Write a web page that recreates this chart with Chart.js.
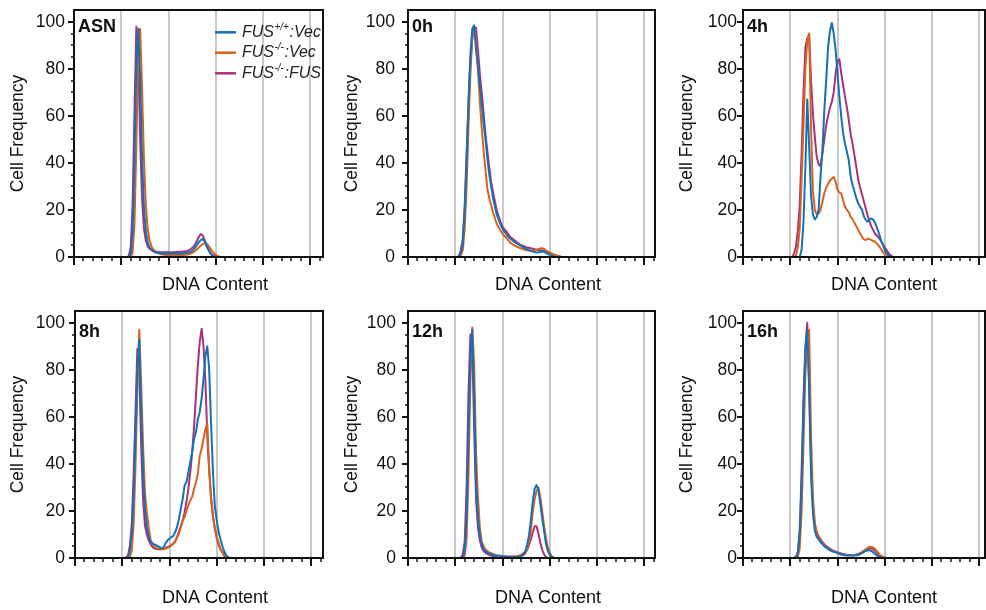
<!DOCTYPE html>
<html>
<head>
<meta charset="utf-8">
<script src="https://cdn.jsdelivr.net/npm/chart.js@4.4.1/dist/chart.umd.min.js"></script>
<style>
  html, body { margin: 0; padding: 0; background: #fff; }
  #page { position: relative; width: 986px; height: 610px; overflow: hidden; background: #fff; }
  #page canvas { position: absolute; }
</style>
</head>
<body>
<div id="page"></div>
<script>
// DNA content channels shared by every histogram
const dnaChannels = [
  52, 54, 56, 58, 60, 62, 64, 66, 68, 70,
  72, 74, 76, 78, 80, 82, 84, 86, 88, 90,
  92, 94, 96, 98, 100, 102, 104, 106, 108, 110,
  112, 114, 116, 118, 120, 122, 124, 126, 128, 130,
  132, 134, 136, 138, 140, 142, 144, 146, 148, 150,
  152, 154, 156, 158, 160, 162, 164, 166
];

const panelNames = ['ASN', '0h', '4h', '8h', '12h', '16h'];
const seriesLabels = ['FUS+/+:Vec', 'FUS-/-:Vec', 'FUS-/-:FUS'];
const legendParts = [['FUS', '+/+', ':Vec'], ['FUS', '-/-', ':Vec'], ['FUS', '-/-', ':FUS']];
const seriesColors = ['#1272b6', '#d9621b', '#a8327f'];
const yTicks = [0, 20, 40, 60, 80, 100];
const xGridLines = [50, 100, 150, 200, 250];

// cell frequency per channel, one array per condition and time point
const wtVecASN = [
  0, 0, 0, 0, 1.5, 10, 42, 82, 97, 75,
  42, 21, 11, 6, 4, 3, 2.4, 2, 1.8, 1.6,
  1.5, 1.5, 1.5, 1.5, 1.5, 1.5, 1.5, 1.5, 1.5, 1.5,
  1.5, 1.5, 1.6, 1.7, 1.8, 2, 2.4, 3, 3.8, 5,
  6.2, 7.2, 7.6, 6.8, 5, 3.2, 1.8, 0.8, 0.3, 0,
  0, 0, 0, 0, 0, 0, 0, 0
];
const koVecASN = [
  0, 0, 0, 0, 0, 2, 14, 48, 88, 97,
  72, 42, 22, 12, 7, 4.5, 3.2, 2.5, 2, 1.6,
  1.3, 1.1, 1, 0.9, 0.9, 0.8, 0.8, 0.8, 0.8, 0.8,
  0.8, 0.8, 0.8, 0.9, 1.1, 1.3, 1.6, 2, 2.5, 3.2,
  4, 4.8, 5.4, 5.8, 5.8, 5, 3.8, 2.6, 1.6, 0.9,
  0.4, 0.1, 0, 0, 0, 0, 0, 0
];
const koFusASN = [
  0, 0, 0, 0.5, 4, 22, 62, 98, 85, 50,
  25, 12, 7, 4.5, 3.5, 3, 2.6, 2.4, 2.2, 2.1,
  2, 2, 2, 2, 2, 2, 2, 2, 2.1, 2.1,
  2.2, 2.2, 2.3, 2.4, 2.6, 3, 3.5, 4.2, 5.2, 6.8,
  8.5, 9.8, 9.2, 7.5, 5.5, 3.5, 2, 1, 0.4, 0.1,
  0, 0, 0, 0, 0, 0, 0, 0
];

const wtVec0h = [
  0, 0.2, 2, 5.5, 20, 40, 66, 86, 97, 98.5,
  88, 81, 73, 65, 57, 50, 42, 35, 30, 25,
  21.5, 18, 15.8, 13.8, 12, 10.8, 9.8, 8.8, 7.9, 7.2,
  6.6, 6, 5.6, 5, 4.6, 4.1, 3.7, 3.3, 2.9, 2.6,
  2.3, 2.1, 1.9, 2, 2.2, 2.3, 2.2, 1.7, 1.3, 0.9,
  0.6, 0.3, 0.1, 0, 0, 0, 0, 0
];
const koVec0h = [
  0, 0, 0.8, 3, 12, 30, 55, 78, 93, 98,
  92, 80, 66, 55, 45, 37, 29, 25, 22, 19,
  16.5, 14, 12.5, 11, 10, 9, 8.2, 7.2, 6.2, 5.6,
  5, 4.6, 4.2, 3.9, 3.6, 3.3, 3.1, 2.9, 2.8, 2.7,
  2.8, 2.9, 3.1, 3.4, 3.6, 3.7, 3.4, 2.8, 2.3, 1.9,
  1.5, 1.1, 0.8, 0.5, 0.3, 0.1, 0, 0
];
const koFus0h = [
  0, 0.5, 3, 8, 22, 44, 65, 82, 93, 97,
  97.5, 88, 78, 70, 61, 52, 45, 38, 32, 27.5,
  23.5, 19.8, 17.2, 14.8, 12.8, 11.8, 11, 9.8, 8.6, 7.9,
  7.3, 6.7, 6, 5.4, 5, 4.7, 4.4, 4.1, 3.9, 3.7,
  3.5, 3.3, 3.1, 3, 2.9, 2.8, 2.7, 2.4, 2, 1.7,
  1.3, 1, 0.7, 0.4, 0.2, 0, 0, 0
];

const wtVec4h = [
  0, 0, 0, 0, 0, 3, 15, 38, 67, 47,
  26, 18, 16, 17, 20, 34, 45, 62, 75, 89,
  96, 99.5, 95, 88, 78, 68, 59.5, 52.4, 48, 44.6,
  41, 34, 30.5, 27.7, 24.9, 22.7, 21.3, 20, 17.1, 15.7,
  15, 16, 16.4, 15.7, 14.3, 12.2, 10, 7.2, 5.1, 3,
  1.6, 0.7, 0.2, 0, 0, 0, 0, 0
];
const koVec4h = [
  0, 0, 0.5, 4, 12, 33, 56, 80, 92, 95,
  55, 28, 20, 18, 18.5, 20, 23.5, 27, 29.5, 31,
  32.5, 33.3, 34, 32, 28.5, 27.5, 27, 24, 21.3, 20,
  19, 17, 16, 14.5, 13, 11.4, 10, 8.5, 7.5, 7.2,
  7.8, 7.6, 7.2, 6.8, 6.4, 5.5, 4.6, 3.4, 2.2, 1.1,
  0.3, 0, 0, 0, 0, 0, 0, 0
];
const koFus4h = [
  0, 1.5, 4.5, 11, 22, 44, 70, 89, 93, 94,
  75, 61, 51, 42.5, 39.5, 38.5, 44, 50, 56, 60,
  63.5, 66, 70, 78, 83, 84, 78, 73, 68, 63.5,
  58, 52, 48, 43, 38, 32.6, 29.5, 26.5, 23.5, 20.5,
  17.5, 15, 12.8, 11.3, 9.8, 9, 8, 6.8, 5.5, 4,
  3, 1.7, 0.8, 0.2, 0, 0, 0, 0
];

const wtVec8h = [
  0, 0, 0.2, 3, 10, 27, 52, 81, 93, 62,
  36, 21, 13, 9, 7, 6.2, 5.8, 5.4, 5, 4.5,
  4, 4.7, 6.4, 7.5, 8.2, 8.9, 9.4, 11, 13.2, 16.7,
  21, 25.2, 30.9, 32.3, 36.5, 40.8, 45, 50.7, 53.5, 59,
  62, 68, 76, 86, 90, 80, 57, 36.5, 22, 16,
  11, 8, 5, 2.8, 1.2, 0.3, 0, 0
];
const koVec8h = [
  0, 0, 0, 0.3, 3, 14, 39, 72, 97, 74,
  48, 28, 19.5, 13, 7.5, 6.1, 4.7, 4.3, 4, 3.7,
  3.7, 3.7, 4, 4.3, 4.8, 5.4, 6.1, 6.8, 8.9, 10.3,
  13.2, 16, 17.4, 20.2, 22.4, 24.5, 26, 29.4, 32.3, 35.8,
  43.6, 46.4, 50.7, 54.9, 57, 38, 24.5, 17.4, 12.2, 8.9,
  6.5, 3.7, 2.5, 1.4, 0.7, 0.3, 0, 0
];
const koFus8h = [
  0, 0.2, 1, 5, 14, 35, 62, 89, 80, 48,
  25, 14, 10, 7.5, 5.8, 4.7, 4.1, 3.8, 3.7, 3.7,
  3.8, 3.9, 4.3, 4.7, 5, 5.4, 6.2, 7.2, 8.8, 11.3,
  13.5, 16, 19.5, 24, 29.5, 36.5, 45, 56, 69, 82,
  92, 97.5, 90, 75, 52, 37, 26, 18, 12.5, 8.5,
  5.5, 3.7, 2.3, 0.8, 0.2, 0, 0, 0
];

const wtVec12h = [
  0, 0, 0, 0.3, 3, 18, 55, 85, 97, 68,
  32, 17, 10, 5.5, 4, 2.8, 2.3, 1.9, 1.6, 1.3,
  1.1, 1, 0.9, 0.8, 0.7, 0.6, 0.5, 0.5, 0.4, 0.4,
  0.4, 0.4, 0.4, 0.6, 0.9, 1.8, 2.8, 5.5, 9.6, 16,
  24, 29.5, 31, 29, 23, 17, 11.5, 6, 3, 1.2,
  0.4, 0, 0, 0, 0, 0, 0, 0
];
const koVec12h = [
  0, 0, 0, 0, 1, 8, 35, 75, 98, 82,
  45, 26, 13, 7, 5, 3.5, 3, 2.4, 2, 1.7,
  1.4, 1.2, 1.1, 1, 0.9, 0.8, 0.7, 0.6, 0.6, 0.6,
  0.6, 0.7, 0.8, 1.1, 1.4, 2, 2.6, 3.5, 6.8, 12,
  19.5, 25, 28.5, 30, 26, 20, 13.5, 8.5, 4.5, 2.2,
  0.8, 0.2, 0, 0, 0, 0, 0, 0
];
const koFus12h = [
  0, 0, 0.2, 1.5, 7, 30, 70, 95, 90, 55,
  25, 13, 7.5, 4.5, 3, 2.2, 1.7, 1.3, 1, 0.8,
  0.7, 0.6, 0.6, 0.6, 0.5, 0.5, 0.5, 0.5, 0.5, 0.5,
  0.5, 0.5, 0.5, 0.6, 0.8, 1.2, 2, 3.5, 5.5, 8,
  11, 13.5, 13.5, 10.5, 6.5, 3.5, 1.5, 0.5, 0, 0,
  0, 0, 0, 0, 0, 0, 0, 0
];

const wtVec16h = [
  0, 0, 0.3, 2, 10, 32, 63, 88, 96.5, 72,
  35, 19, 11.5, 9, 8, 6.8, 5.9, 5, 4.4, 3.8,
  3.3, 2.9, 2.6, 2.4, 2.1, 1.8, 1.5, 1.3, 1.2, 1.1,
  1.1, 1.1, 1.1, 1.1, 1.2, 1.4, 1.7, 2.1, 2.6, 3,
  3.3, 3.3, 3, 2.3, 1.6, 1, 0.5, 0.2, 0, 0,
  0, 0, 0, 0, 0, 0, 0, 0
];
const koVec16h = [
  0, 0, 0, 0.5, 4, 20, 48, 78, 94, 97,
  52, 26, 15, 11, 9, 7.5, 6.5, 5.5, 4.8, 4.2,
  3.6, 3.1, 2.7, 2.4, 2.1, 1.9, 1.7, 1.5, 1.4, 1.3,
  1.2, 1.2, 1.2, 1.3, 1.5, 1.7, 2.1, 2.6, 3.2, 3.8,
  4.3, 4.7, 4.7, 4.5, 3.7, 2.7, 1.7, 1, 0.5, 0.2,
  0, 0, 0, 0, 0, 0, 0, 0
];
const koFus16h = [
  0, 0, 0.4, 2.5, 12, 36, 68, 90, 100, 74,
  40, 22, 14, 11, 9.3, 8, 6.8, 5.9, 5.1, 4.5,
  3.9, 3.4, 3, 2.7, 2.4, 2.1, 1.9, 1.7, 1.5, 1.4,
  1.3, 1.3, 1.3, 1.3, 1.4, 1.6, 1.9, 2.3, 2.8, 3.3,
  3.8, 4.1, 4.1, 3.7, 2.9, 2, 1.1, 0.5, 0.2, 0,
  0, 0, 0, 0, 0, 0, 0, 0
];

const panelSeries = [
  [wtVecASN, koVecASN, koFusASN],
  [wtVec0h, koVec0h, koFus0h],
  [wtVec4h, koVec4h, koFus4h],
  [wtVec8h, koVec8h, koFus8h],
  [wtVec12h, koVec12h, koFus12h],
  [wtVec16h, koVec16h, koFus16h]
];

// canvas box, plot rectangle [left, top, right, bottom] and text spots, in page pixels
const panelBoxes = [
  { x: 0,   y: 0,   w: 330, h: 300, plot: [74, 10, 323, 257],  tickGap: 9,  yTitleX: 18,  xTitleX: 215, xTitleY: 285, tagY: 27 },
  { x: 330, y: 0,   w: 330, h: 300, plot: [408, 10, 655, 257], tickGap: 13, yTitleX: 352, xTitleX: 548, xTitleY: 285, tagY: 27 },
  { x: 660, y: 0,   w: 326, h: 300, plot: [743, 10, 985, 257], tickGap: 6,  yTitleX: 687, xTitleX: 884, xTitleY: 285, tagY: 27 },
  { x: 0,   y: 300, w: 330, h: 310, plot: [75, 311, 323, 558], tickGap: 10, yTitleX: 18,  xTitleX: 215, xTitleY: 598, tagY: 332 },
  { x: 330, y: 300, w: 330, h: 310, plot: [408, 311, 655, 558], tickGap: 12, yTitleX: 352, xTitleX: 548, xTitleY: 598, tagY: 332 },
  { x: 660, y: 300, w: 326, h: 310, plot: [743, 311, 985, 558], tickGap: 6,  yTitleX: 687, xTitleX: 884, xTitleY: 598, tagY: 332 }
];

const FONT = '"Liberation Sans", Arial, Helvetica, sans-serif';
const INK = '#111';
const PX_PER_CHANNEL = 0.945;

// frame, tick marks, panel tag, axis titles and (first panel) legend
function panelDecor(box, idx) {
  return {
    id: 'panelDecor' + idx,
    afterDatasetsDraw(chart) {
      const ctx = chart.ctx;
      const a = chart.chartArea;
      const xs = chart.scales.x;
      const ys = chart.scales.y;
      ctx.save();
      ctx.strokeStyle = INK;

      // x ticks: major every 50, minor every 10
      for (let v = 0; v <= xs.max + 0.01; v += 10) {
        const px = Math.round(xs.getPixelForValue(v));
        const major = v % 50 === 0;
        ctx.lineWidth = major ? 2 : 1.5;
        ctx.beginPath();
        ctx.moveTo(px, a.bottom);
        ctx.lineTo(px, a.bottom + (major ? 8 : 4));
        ctx.stroke();
      }
      // y ticks: major every 20, minor every 5
      for (let v = 0; v <= 100; v += 5) {
        const py = Math.round(ys.getPixelForValue(v));
        const major = v % 20 === 0;
        ctx.lineWidth = major ? 2 : 1.5;
        ctx.beginPath();
        ctx.moveTo(a.left, py);
        ctx.lineTo(a.left - (major ? 6 : 3), py);
        ctx.stroke();
      }

      ctx.lineWidth = 2;
      ctx.strokeRect(a.left, a.top, a.right - a.left, a.bottom - a.top);

      ctx.fillStyle = INK;
      ctx.textBaseline = 'middle';
      ctx.textAlign = 'left';
      ctx.font = 'bold 18px ' + FONT;
      ctx.fillText(panelNames[idx], a.left + 4, box.tagY - box.y);

      ctx.font = '18px ' + FONT;
      ctx.textAlign = 'center';
      ctx.fillText('DNA Content', box.xTitleX - box.x, box.xTitleY - box.y);

      ctx.save();
      ctx.translate(box.yTitleX - box.x, (a.top + a.bottom) / 2);
      ctx.rotate(-Math.PI / 2);
      ctx.font = '17.5px ' + FONT;
      ctx.fillText('Cell Frequency', 0, 0);
      ctx.restore();

      if (idx === 0) {
        const lx = 215 - box.x;
        chart.data.datasets.forEach((ds, k) => {
          const ly = [32.3, 52.7, 73.3][k] - box.y;
          ctx.strokeStyle = ds.borderColor;
          ctx.lineWidth = 2.5;
          ctx.beginPath();
          ctx.moveTo(lx, ly);
          ctx.lineTo(lx + 21, ly);
          ctx.stroke();
          const parts = legendParts[k];
          let tx = lx + 27;
          ctx.fillStyle = '#222';
          ctx.textAlign = 'left';
          ctx.font = 'italic 16px ' + FONT;
          ctx.fillText(parts[0], tx, ly);
          tx += ctx.measureText(parts[0]).width + 0.5;
          ctx.font = 'italic 10px ' + FONT;
          ctx.fillText(parts[1], tx, ly - 5);
          tx += ctx.measureText(parts[1]).width + 0.5;
          ctx.font = 'italic 16px ' + FONT;
          ctx.fillText(parts[2], tx, ly);
        });
      }
      ctx.restore();
    }
  };
}

const page = document.getElementById('page');

panelBoxes.forEach((box, idx) => {
  const [L, T, R, B] = box.plot;
  const canvas = document.createElement('canvas');
  canvas.width = box.w;
  canvas.height = box.h;
  canvas.style.left = box.x + 'px';
  canvas.style.top = box.y + 'px';
  canvas.style.width = box.w + 'px';
  canvas.style.height = box.h + 'px';
  page.appendChild(canvas);

  new Chart(canvas, {
    type: 'line',
    data: {
      datasets: panelSeries[idx].map((vals, k) => ({
        label: seriesLabels[k],
        data: dnaChannels.map((c, i) => ({ x: c, y: vals[i] })),
        borderColor: seriesColors[k],
        borderWidth: 2,
        pointRadius: 0,
        tension: 0,
        fill: false,
        borderJoinStyle: 'round'
      }))
    },
    options: {
      responsive: false,
      animation: false,
      events: [],
      layout: { padding: { left: 0, top: T - box.y, right: box.x + box.w - R, bottom: 0 } },
      plugins: { legend: { display: false }, tooltip: { enabled: false } },
      scales: {
        x: {
          type: 'linear',
          min: 0,
          max: (R - L) / PX_PER_CHANNEL,
          border: { display: false },
          grid: { color: '#c8c8c8', lineWidth: 2, drawTicks: false },
          ticks: { display: false },
          afterBuildTicks: s => { s.ticks = xGridLines.filter(v => v < s.max).map(v => ({ value: v })); },
          afterFit: s => { s.height = box.y + box.h - B; s.paddingLeft = 0; s.paddingRight = 0; }
        },
        y: {
          min: 0,
          max: 105,
          border: { display: false },
          grid: { display: false, drawTicks: false },
          ticks: { color: INK, padding: box.tickGap, font: { family: FONT, size: 17.5 } },
          afterBuildTicks: s => { s.ticks = yTicks.map(v => ({ value: v })); },
          afterFit: s => { s.width = L - box.x; s.paddingTop = 0; s.paddingBottom = 0; }
        }
      }
    },
    plugins: [panelDecor(box, idx)]
  });
});
</script>
</body>
</html>
